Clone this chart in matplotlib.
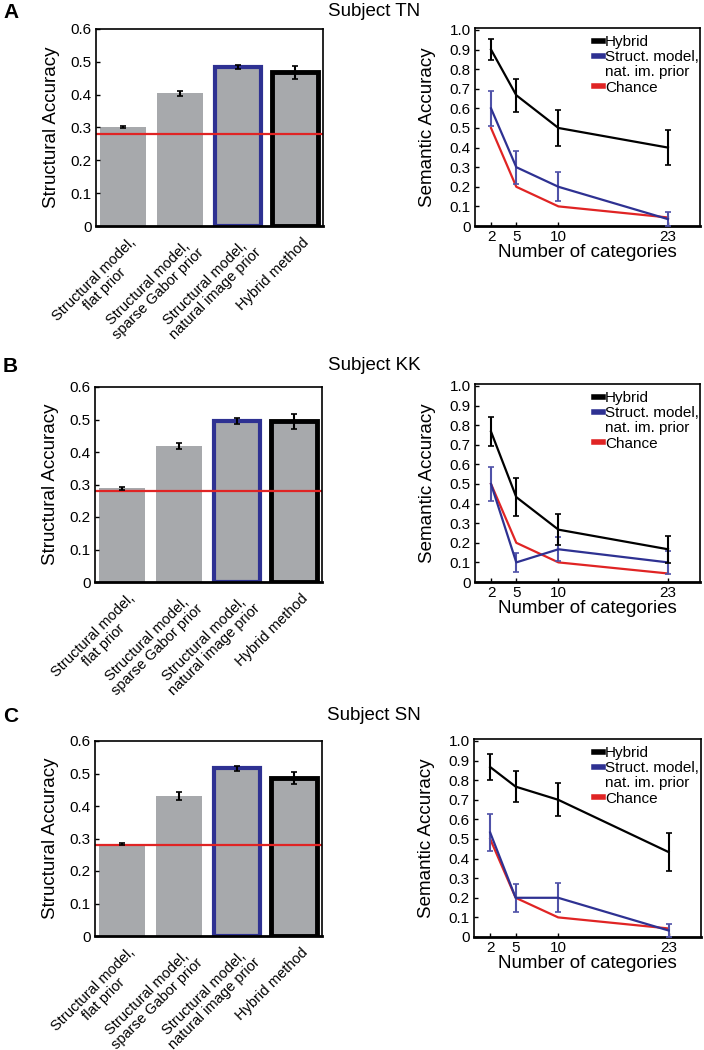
import matplotlib
matplotlib.use("Agg")
import matplotlib.pyplot as plt
import matplotlib.transforms as mtransforms
from matplotlib.lines import Line2D

plt.rcParams['font.family'] = ['Liberation Sans', 'DejaVu Sans']

# ---- data ----
subjects = ["Subject TN", "Subject KK", "Subject SN"]
letters = ["A", "B", "C"]

bar_labels = ["Structural model,\nflat prior",
              "Structural model,\nsparse Gabor prior",
              "Structural model,\nnatural image prior",
              "Hybrid method"]
struct_chance = 0.28

struct_tn = [0.302, 0.404, 0.483, 0.468]
struct_tn_err = [0.003, 0.008, 0.006, 0.02]
struct_kk = [0.288, 0.418, 0.495, 0.495]
struct_kk_err = [0.004, 0.01, 0.009, 0.023]
struct_sn = [0.283, 0.43, 0.516, 0.486]
struct_sn_err = [0.004, 0.013, 0.007, 0.018]

n_categories = [2, 5, 10, 23]
chance = [0.5, 0.2, 0.1, 0.0435]

hybrid_tn = [0.9, 0.667, 0.5, 0.4]
hybrid_tn_err = [0.055, 0.085, 0.092, 0.09]
smodel_tn = [0.6, 0.3, 0.2, 0.035]
smodel_tn_err = [0.09, 0.085, 0.075, 0.035]

hybrid_kk = [0.767, 0.433, 0.267, 0.167]
hybrid_kk_err = [0.075, 0.095, 0.08, 0.068]
smodel_kk = [0.5, 0.1, 0.167, 0.1]
smodel_kk_err = [0.085, 0.05, 0.06, 0.058]

hybrid_sn = [0.867, 0.767, 0.7, 0.433]
hybrid_sn_err = [0.065, 0.078, 0.085, 0.095]
smodel_sn = [0.533, 0.2, 0.2, 0.033]
smodel_sn_err = [0.093, 0.07, 0.075, 0.035]

legend_labels = ["Hybrid", "Struct. model,", "nat. im. prior", "Chance"]

struct_all = [(struct_tn, struct_tn_err), (struct_kk, struct_kk_err), (struct_sn, struct_sn_err)]
sem_all = [(hybrid_tn, hybrid_tn_err, smodel_tn, smodel_tn_err),
           (hybrid_kk, hybrid_kk_err, smodel_kk, smodel_kk_err),
           (hybrid_sn, hybrid_sn_err, smodel_sn, smodel_sn_err)]

GRAY = "#a7a9ac"
BLUE = "#2e3192"
BLUE_ERR = "#4f52a8"
RED = "#e02424"

W, H = 704, 1050
fig = plt.figure(figsize=(W / 100, H / 100), dpi=100)

def box(x0, x1, y0, y1):
    # pixel coords (top origin) -> figure fraction
    return [x0 / W, 1 - y1 / H, (x1 - x0) / W, (y1 - y0) / H]

bar_boxes = [(96, 323, 29, 226), (95, 322, 387, 582), (95, 322, 741, 936)]
line_boxes = [(475, 700, 28, 226), (475, 700, 384, 582), (474, 701, 739, 937)]
title_y = [12, 366, 716]

# shift for the rotated bar labels
label_shift = mtransforms.ScaledTranslation(6 / 100, -1 / 100, fig.dpi_scale_trans)


def style_axes(ax):
    for s in ax.spines.values():
        s.set_linewidth(1.2)
    ax.spines['bottom'].set_linewidth(2.0)
    ax.tick_params(direction='in', length=3, width=1, labelsize=11, pad=3)


for i in range(3):
    vals, errs = struct_all[i]
    ax = fig.add_axes(box(*bar_boxes[i]))
    xs = range(len(vals))
    edgec = ["none", "none", BLUE, "black"]
    lws = [0, 0, 3, 3.5]
    ax.bar(xs, vals, width=0.8, color=GRAY, edgecolor=edgec, linewidth=lws, zorder=1)
    ax.errorbar(xs, vals, yerr=errs, fmt='none', ecolor='black', elinewidth=1.5,
                capsize=2, capthick=1.2, zorder=3)
    ax.axhline(struct_chance, color=RED, linewidth=1.6, zorder=2)
    ax.set_xlim(-0.47, 3.48)
    ax.set_ylim(0, 0.6)
    ax.set_yticks([0, 0.1, 0.2, 0.3, 0.4, 0.5, 0.6])
    ax.set_yticklabels(["0", "0.1", "0.2", "0.3", "0.4", "0.5", "0.6"])
    ax.set_xticks(list(xs))
    ax.set_xticklabels(bar_labels, rotation=45, ha='right', rotation_mode='anchor',
                       multialignment='center', fontsize=10.5, linespacing=1.0)
    style_axes(ax)
    ax.tick_params(axis='x', length=0, pad=6, labelsize=10.5)
    for lab in ax.get_xticklabels():
        lab.set_transform(lab.get_transform() + label_shift)
    ax.set_ylabel("Structural Accuracy", fontsize=13.5, labelpad=8)

    hyb, hyb_err, smod, smod_err = sem_all[i]
    ax2 = fig.add_axes(box(*line_boxes[i]))
    ax2.plot(n_categories, chance, color=RED, linewidth=1.6, zorder=2)
    ax2.errorbar(n_categories, smod, yerr=smod_err, color=BLUE, ecolor=BLUE_ERR,
                 linewidth=1.6, elinewidth=1.5, capsize=2.5, capthick=1.2, zorder=3)
    ax2.errorbar(n_categories, hyb, yerr=hyb_err, color='black', ecolor='black',
                 linewidth=1.6, elinewidth=1.5, capsize=2.5, capthick=1.2, zorder=4)
    ax2.set_xlim(0.1, 26.8)
    ax2.set_ylim(0, 1.01)
    ax2.set_xticks(n_categories)
    ax2.set_yticks([k / 10 for k in range(11)])
    ax2.set_yticklabels(["0"] + ["%.1f" % (k / 10) for k in range(1, 11)])
    style_axes(ax2)
    ax2.set_xlabel("Number of categories", fontsize=13.5, labelpad=0)
    ax2.set_ylabel("Semantic Accuracy", fontsize=13.5, labelpad=10)
    handles = [Line2D([], [], color='black', linewidth=4),
               Line2D([], [], color=BLUE, linewidth=4),
               Line2D([], [], color='none', linewidth=0),
               Line2D([], [], color=RED, linewidth=4)]
    ax2.legend(handles, legend_labels,
               loc='upper left', frameon=False, fontsize=11,
               handlelength=0.55, handletextpad=0.15, labelspacing=0.08,
               borderaxespad=0.0, borderpad=0.0, bbox_to_anchor=(0.53, 0.965))

    fig.text(374 / W, 1 - title_y[i] / H, subjects[i], fontsize=13.5,
             ha='center', va='center')
    fig.text(3 / W, 1 - (title_y[i] + 1) / H, letters[i], fontsize=15,
             fontweight='bold', ha='left', va='center')

fig.savefig("out.png", dpi=100)
